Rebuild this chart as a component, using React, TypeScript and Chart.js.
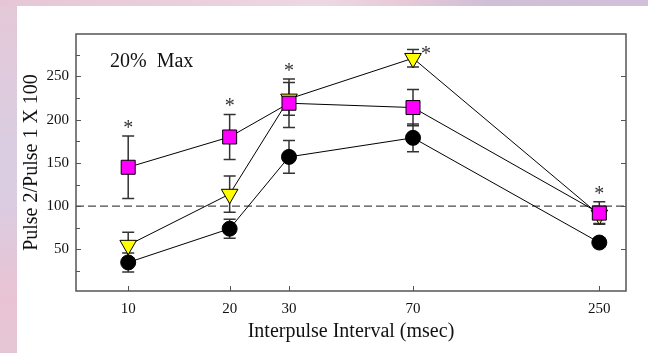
import React, { useEffect, useRef } from "react";
import { Chart, registerables } from "chart.js";

Chart.register(...registerables);

// ---- data ----
const intervals = [10, 20, 30, 70, 250];
const xTickValues = [10, 20, 30, 70, 250];
const yMajorTicks = [50, 100, 150, 200, 250];
const yMinorTicks = [25, 75, 125, 175, 225, 275];

const squareMean = [145, 180, 219, 214, 92];
const squareErr = [36, 26, 28, 21, 13];
const triangleMean = [55, 114, 224, 271, 90];
const triangleErr = [15, 21, 19, 10, 10];
const circleMean = [35, 74, 157, 179, 58];
const circleErr = [11, 11, 19, 16, 5];

// asterisk markers: x value, placed above highest error cap
const asteriskX = [10, 20, 30, 70, 250];
const baselineValue = 100;
const panelLabel = "20%  Max";

const X_MIN = 7;
const X_MAX = 300;
const Y_MIN = 2;
const Y_MAX = 299;

const serif = "'Liberation Serif', 'Times New Roman', serif";

export default function App() {
  const ref = useRef<HTMLCanvasElement | null>(null);

  useEffect(() => {
    const canvas = ref.current;
    if (!canvas) return;

    const toPts = (m: number[]) => intervals.map((x, i) => ({ x, y: m[i] }));

    const series = [
      { mean: squareMean, err: squareErr },
      { mean: triangleMean, err: triangleErr },
      { mean: circleMean, err: circleErr },
    ];

    const decorPlugin = {
      id: "decor",
      beforeDraw(chart: any) {
        const { ctx, width, height } = chart;
        ctx.save();
        const gh = ctx.createLinearGradient(0, 0, width, 0);
        gh.addColorStop(0, "#e6c6d6");
        gh.addColorStop(0.3, "#ebcfdc");
        gh.addColorStop(0.5, "#ecd8e3");
        gh.addColorStop(0.62, "#e8c9d8");
        gh.addColorStop(0.75, "#cfbfd6");
        gh.addColorStop(1, "#d2c0da");
        ctx.fillStyle = gh;
        ctx.fillRect(0, 0, width, height);
        const gv = ctx.createLinearGradient(0, 0, 0, height);
        gv.addColorStop(0, "#e4c8d8");
        gv.addColorStop(0.45, "#d9cde2");
        gv.addColorStop(0.6, "#dccbe0");
        gv.addColorStop(0.85, "#e9c3d3");
        gv.addColorStop(1, "#e6c6d6");
        ctx.fillStyle = gv;
        ctx.fillRect(0, 6, 17, height);
        ctx.fillStyle = "#ffffff";
        ctx.fillRect(17, 6, width - 17, height - 6);
        ctx.restore();
      },
      beforeDatasetsDraw(chart: any) {
        const { ctx, chartArea: a, scales } = chart;
        const xs = scales.x;
        const ys = scales.y;
        ctx.save();
        // frame
        ctx.strokeStyle = "#555555";
        ctx.lineWidth = 1.5;
        ctx.strokeRect(a.left, a.top, a.right - a.left, a.bottom - a.top);
        // ticks
        ctx.beginPath();
        yMajorTicks.forEach((v) => {
          const y = Math.round(ys.getPixelForValue(v)) + 0.5;
          ctx.moveTo(a.left, y);
          ctx.lineTo(a.left + 5, y);
          ctx.moveTo(a.right, y);
          ctx.lineTo(a.right - 5, y);
        });
        yMinorTicks.forEach((v) => {
          const y = Math.round(ys.getPixelForValue(v)) + 0.5;
          ctx.moveTo(a.left, y);
          ctx.lineTo(a.left + 4, y);
        });
        xTickValues.forEach((v) => {
          const x = Math.round(xs.getPixelForValue(v)) + 0.5;
          ctx.moveTo(x, a.bottom);
          ctx.lineTo(x, a.bottom - 5);
        });
        ctx.lineWidth = 1;
        ctx.stroke();
        // baseline dashed
        const by = ys.getPixelForValue(baselineValue);
        ctx.beginPath();
        ctx.setLineDash([8, 4]);
        ctx.moveTo(a.left, by);
        ctx.lineTo(a.right, by);
        ctx.strokeStyle = "#4a4a4a";
        ctx.lineWidth = 1.3;
        ctx.stroke();
        ctx.setLineDash([]);
        // error bars
        ctx.strokeStyle = "#333333";
        ctx.lineWidth = 1.5;
        series.forEach((s) => {
          intervals.forEach((xv, i) => {
            const x = xs.getPixelForValue(xv);
            const yt = ys.getPixelForValue(s.mean[i] + s.err[i]);
            const yb = ys.getPixelForValue(s.mean[i] - s.err[i]);
            ctx.beginPath();
            ctx.moveTo(x, yt);
            ctx.lineTo(x, yb);
            ctx.moveTo(x - 6, yt);
            ctx.lineTo(x + 6, yt);
            ctx.moveTo(x - 6, yb);
            ctx.lineTo(x + 6, yb);
            ctx.stroke();
          });
        });
        // panel label
        ctx.fillStyle = "#111111";
        ctx.font = `20px ${serif}`;
        ctx.textBaseline = "middle";
        ctx.textAlign = "left";
        ctx.fillText(panelLabel, a.left + 34, 62);
        // asterisks
        ctx.font = `20px ${serif}`;
        ctx.textAlign = "center";
        ctx.textBaseline = "alphabetic";
        ctx.fillStyle = "#333333";
        asteriskX.forEach((xv) => {
          const i = intervals.indexOf(xv);
          let top = -Infinity;
          series.forEach((s) => {
            top = Math.max(top, s.mean[i] + s.err[i]);
          });
          const x = xs.getPixelForValue(xv);
          const y = ys.getPixelForValue(top);
          if (xv === 70) {
            ctx.fillText("*", x + 13, y + 10);
          } else {
            ctx.fillText("*", x, y - 2);
          }
        });
        ctx.restore();
      },
    };

    const chart = new Chart(canvas, {
      type: "line",
      data: {
        datasets: [
          {
            label: "square",
            data: toPts(squareMean),
            borderColor: "#000000",
            borderWidth: 1,
            pointStyle: "rect",
            pointRadius: 9.9,
            pointBackgroundColor: "#ff00ff",
            pointBorderColor: "#000000",
            pointBorderWidth: 1,
            fill: false,
            tension: 0,
          },
          {
            label: "triangle",
            data: toPts(triangleMean),
            borderColor: "#000000",
            borderWidth: 1,
            pointStyle: "triangle",
            pointRotation: 180,
            pointRadius: 9.6,
            pointBackgroundColor: "#ffff00",
            pointBorderColor: "#000000",
            pointBorderWidth: 1,
            fill: false,
            tension: 0,
          },
          {
            label: "circle",
            data: toPts(circleMean),
            borderColor: "#000000",
            borderWidth: 1,
            pointStyle: "circle",
            pointRadius: 7.5,
            pointBackgroundColor: "#000000",
            pointBorderColor: "#000000",
            pointBorderWidth: 1,
            fill: false,
            tension: 0,
          },
        ],
      },
      options: {
        animation: false,
        responsive: false,
        devicePixelRatio: 1,
        layout: { padding: { left: 0, top: 34, right: 22, bottom: 0 } },
        plugins: {
          legend: { display: false },
          tooltip: { enabled: false },
        },
        scales: {
          x: {
            type: "logarithmic",
            min: X_MIN,
            max: X_MAX,
            grid: { display: false, drawTicks: false },
            border: { display: false },
            afterBuildTicks: (scale: any) => {
              scale.ticks = xTickValues.map((v) => ({ value: v }));
            },
            afterFit: (scale: any) => {
              scale.height = 62;
            },
            ticks: {
              autoSkip: false,
              maxRotation: 0,
              padding: 9,
              color: "#111111",
              font: { family: serif, size: 15 },
              callback: (v: any) => String(v),
            },
            title: {
              display: true,
              text: "Interpulse Interval (msec)",
              color: "#111111",
              font: { family: serif, size: 20 },
              padding: { top: 0, bottom: 9 },
            },
          },
          y: {
            type: "linear",
            min: Y_MIN,
            max: Y_MAX,
            grid: { display: false, drawTicks: false },
            border: { display: false },
            afterBuildTicks: (scale: any) => {
              scale.ticks = yMajorTicks.map((v) => ({ value: v }));
            },
            afterFit: (scale: any) => {
              scale.width = 76;
            },
            ticks: {
              autoSkip: false,
              padding: 7,
              color: "#111111",
              font: { family: serif, size: 15 },
              callback: (v: any) => String(v),
            },
            title: {
              display: true,
              text: "Pulse 2/Pulse 1 X 100",
              color: "#111111",
              font: { family: serif, size: 20 },
              padding: { top: 20, bottom: 0 },
            },
          },
        },
      },
      plugins: [decorPlugin],
    } as any);

    return () => chart.destroy();
  }, []);

  return (
    <div style={{ position: "fixed", left: 0, top: 0, width: 648, height: 353 }}>
      <canvas ref={ref} width={648} height={353} style={{ width: 648, height: 353, display: "block" }} />
    </div>
  );
}
